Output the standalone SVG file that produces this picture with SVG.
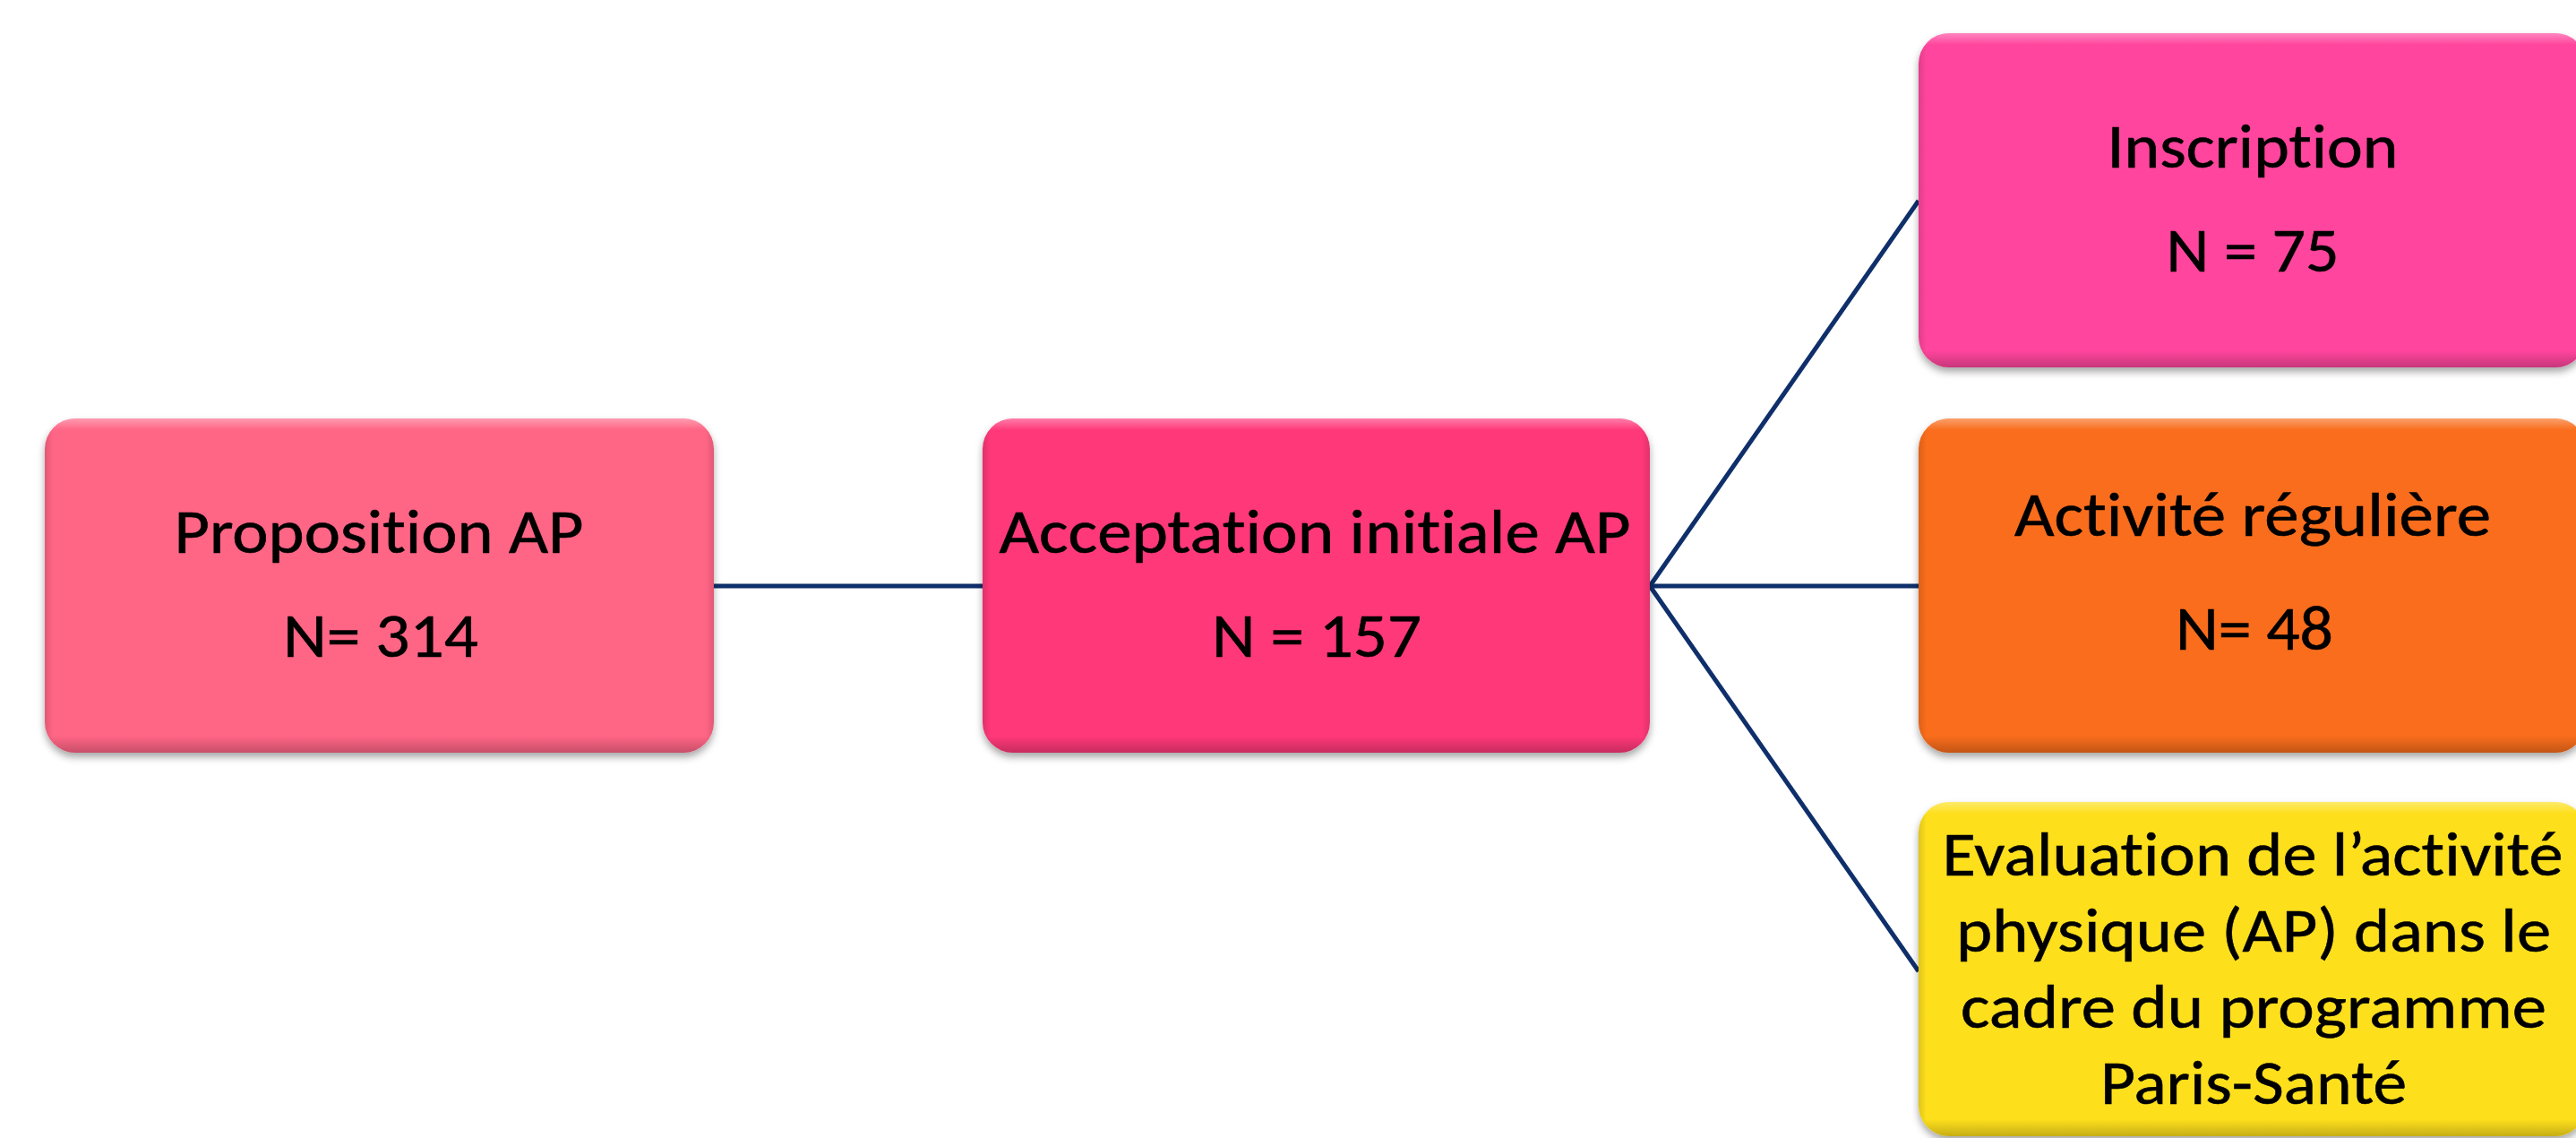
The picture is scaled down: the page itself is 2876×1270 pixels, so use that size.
<svg xmlns="http://www.w3.org/2000/svg" width="2876" height="1270" viewBox="0 0 2876 1270">
  <defs>
    <filter id="shadow" x="-5%" y="-5%" width="110%" height="115%">
      <feDropShadow dx="0" dy="5" stdDeviation="4" flood-color="#000" flood-opacity="0.35"/>
    </filter>
    <linearGradient id="gloss" x1="0" y1="0" x2="0" y2="1">
      <stop offset="0" stop-color="#fff" stop-opacity="0.35"/>
      <stop offset="0.035" stop-color="#fff" stop-opacity="0"/>
      <stop offset="0.95" stop-color="#000" stop-opacity="0"/>
      <stop offset="1" stop-color="#000" stop-opacity="0.22"/>
    </linearGradient>
    <linearGradient id="sides" x1="0" y1="0" x2="1" y2="0">
      <stop offset="0" stop-color="#000" stop-opacity="0.12"/>
      <stop offset="0.012" stop-color="#000" stop-opacity="0"/>
      <stop offset="0.988" stop-color="#000" stop-opacity="0"/>
      <stop offset="1" stop-color="#000" stop-opacity="0.12"/>
    </linearGradient>
  </defs>
  <style>
    .box { filter: url(#shadow); }
    .gl { fill: url(#gloss); }
    .sd { fill: url(#sides); }
    .lbl { font-family: Carlito, Calibri, Lato, "Open Sans", sans-serif; font-size: 69px; fill: #000; text-anchor: middle; font-variant-ligatures: none; font-feature-settings: "liga" 0, "clig" 0; stroke: #000; stroke-width: 0.6; }
    .conn { stroke: #0F2F6B; stroke-width: 5; fill: none; }
  </style>
  <rect width="2876" height="1270" fill="#fff"/>

  <g id="connectors">
    <line class="conn" x1="797" y1="654" x2="1097" y2="654"/>
    <line class="conn" x1="1842" y1="654" x2="2142" y2="224"/>
    <line class="conn" x1="1842" y1="654" x2="2142" y2="654"/>
    <line class="conn" x1="1842" y1="654" x2="2142" y2="1084"/>
  </g>

  <g id="node-proposition">
    <rect class="box" x="50" y="467" width="747" height="373" rx="34" fill="#FF6585"/>
    <rect class="gl" x="50" y="467" width="747" height="373" rx="34"/>
    <rect class="sd" x="50" y="467" width="747" height="373" rx="34"/>
    <text class="lbl" x="423" y="617" textLength="457" lengthAdjust="spacingAndGlyphs">Proposition AP</text>
    <text class="lbl" x="425" y="733" textLength="218" lengthAdjust="spacingAndGlyphs">N= 314</text>
  </g>

  <g id="node-acceptation">
    <rect class="box" x="1097" y="467" width="745" height="373" rx="34" fill="#FF387A"/>
    <rect class="gl" x="1097" y="467" width="745" height="373" rx="34"/>
    <rect class="sd" x="1097" y="467" width="745" height="373" rx="34"/>
    <text class="lbl" x="1468" y="617" textLength="705" lengthAdjust="spacingAndGlyphs">Acceptation initiale AP</text>
    <text class="lbl" x="1470" y="733" textLength="234" lengthAdjust="spacingAndGlyphs">N = 157</text>
  </g>

  <g id="node-inscription">
    <rect class="box" x="2142" y="37" width="745" height="373" rx="34" fill="#FF459D"/>
    <rect class="gl" x="2142" y="37" width="745" height="373" rx="34"/>
    <rect class="sd" x="2142" y="37" width="745" height="373" rx="34"/>
    <text class="lbl" x="2515" y="187" textLength="325" lengthAdjust="spacingAndGlyphs">Inscription</text>
    <text class="lbl" x="2515" y="303" textLength="193" lengthAdjust="spacingAndGlyphs">N = 75</text>
  </g>

  <g id="node-activite">
    <rect class="box" x="2142" y="467" width="745" height="373" rx="34" fill="#F96D1E"/>
    <rect class="gl" x="2142" y="467" width="745" height="373" rx="34"/>
    <rect class="sd" x="2142" y="467" width="745" height="373" rx="34"/>
    <text class="lbl" x="2515" y="598" textLength="532" lengthAdjust="spacingAndGlyphs">Activité régulière</text>
    <text class="lbl" x="2517" y="725" textLength="176" lengthAdjust="spacingAndGlyphs">N= 48</text>
  </g>

  <g id="node-evaluation">
    <rect class="box" x="2142" y="895" width="745" height="373" rx="34" fill="#FDDF1E"/>
    <rect class="gl" x="2142" y="895" width="745" height="373" rx="34"/>
    <rect class="sd" x="2142" y="895" width="745" height="373" rx="34"/>
    <text class="lbl" x="2515" y="977" textLength="693" lengthAdjust="spacingAndGlyphs">Evaluation de l’activité</text>
    <text class="lbl" x="2516" y="1062" textLength="664" lengthAdjust="spacingAndGlyphs">physique (AP) dans le</text>
    <text class="lbl" x="2516" y="1147" textLength="654" lengthAdjust="spacingAndGlyphs">cadre du programme</text>
    <text class="lbl" x="2516" y="1232" textLength="342" lengthAdjust="spacingAndGlyphs">Paris-Santé</text>
  </g>
</svg>
